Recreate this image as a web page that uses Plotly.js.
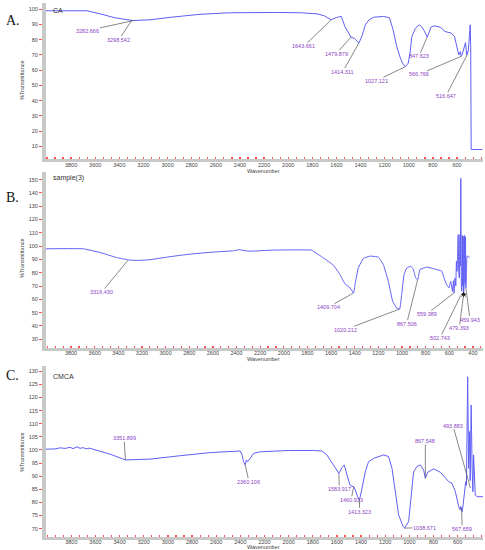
<!DOCTYPE html>
<html>
<head>
<meta charset="utf-8">
<script src="https://cdn.plot.ly/plotly-3.0.1.min.js"></script>
<style>html,body{margin:0;padding:0;background:#fff;}#chart{width:485px;height:550px;}</style>
</head>
<body>
<div id="chart"></div>
<script>
// ---------- data ----------
const caWn = [4008,3668,3560,3436,3287,3146,2980,2732,2484,2318,2100,1900,1761,1700,1643.7,1600,1560,1530,1500,1479.9,1450,1414.3,1390,1360,1330,1290,1210,1160,1130,1100,1070,1045,1027.1,1005,990,975,945,915,895,870,847.6,830,815,790,740,700,648,621,603,586,572,566.8,558,544,530,520,516.6,506,495,491,487,483,390];
const caT  = [98.9,98.9,96.9,94.3,92.5,93,94.6,96.6,97.6,97.8,97.8,97.6,96.9,95.6,93,94.5,95.2,88.6,84,81.7,80.8,77.7,82,89.7,93,94.7,95.2,94.3,86.4,75.5,67.9,63.5,62.4,64.6,71.2,82,87.5,89.7,88.6,85.5,81.7,85.3,88.3,89,88.2,85.3,84.3,82,75.5,70,72.2,69,70,73.3,78.1,70,70,73.3,85,89.7,75,8,8];

const s3Wn = [4012,3696,3555,3414,3329,3300,3250,3200,3132,2991,2850,2709,2568,2427,2377,2328,2286,2100,1900,1764,1750,1666,1581,1525,1482,1440,1409.7,1398,1370,1327,1271,1200,1158,1116,1079,1045,1020.2,1003,983,960,926,904,884,867.5,848,791,735,664,645,622,603,588,574,565,559.4,552,545,540,535,530,525,520,515,510,506,502.7,498,494,490,486,482,479.4,475,471,467,463,459.9,455,450,440,428];
const s3T  = [98,98,95.2,91.4,89.9,89.5,89.3,89.4,89.8,91.7,93.4,94.7,95.7,96.5,97.4,96.5,96.2,97,97.2,97,96.2,91.2,85.7,78.6,71.6,68.6,64.8,71,83.6,90.7,92.5,91.7,86.1,73.6,58.5,53.5,52.7,63.5,78.6,83.6,84.9,82.4,76,74.8,82.4,84.2,83.1,81.2,76.1,71,68.6,73.6,66,74,64.8,76,70,88.7,81,92.5,108.7,80,76,108.7,85,151,70,66,108,70,107.5,63.5,70,108,72,107,68.6,80,92.5,92.5,91.2];

const cmWn = [4010,3935,3894,3852,3811,3786,3753,3728,3703,3678,3653,3620,3562,3479,3352,3148,2899,2650,2401,2385,2374,2360,2350,2340,2318,2291,2236,2125,2000,1800,1724,1683,1641,1600,1584,1558,1539,1517,1490,1461,1448,1429,1413,1392,1365,1338,1296,1213,1172,1144,1116,1089,1052,1038.7,1006,986,965,937,909,882,867.5,848,799,743,674,646,619,591,580,575,570,567.7,563,555,541,533,527,517,509,501,496,488,480,474,468,460,454,440,390];
const cmT  = [100.3,100.4,100.8,100.6,101.0,100.5,101.2,100.6,100.9,100.4,100.7,100.3,99.6,98.4,96.2,96.5,97.8,99.0,99.6,98,95.5,94.3,96.2,95.5,96.8,98.7,99.3,99.6,99.8,99.8,99.6,98.1,94.9,91.8,91.1,93.3,94.3,90.5,86.4,86,84.8,82.2,81,85.4,91.7,95.5,96.8,98.1,97.5,93,84.1,75.3,70.8,70.2,72.7,81.6,91.7,93.7,94.3,92.4,89.2,91.5,92.8,91.5,87.9,87.2,84.1,78.4,77.2,78.5,77,78,76.5,79,84.1,87.9,86.5,127.9,93,107,88.3,117.1,93,84.1,98.1,91,82.9,82.2,82.2];

// peak labels
const caPeakWn = [3282.666,3298.542,1643.661,1479.879,1414.311,1027.121,847.623,566.766,516.647];
const caPeakT  = [92.5,92.5,93,81.7,77.7,62.4,81.7,69,70];
const s3PeakWn = [3316.430,1409.704,1020.212,867.506,559.389,502.743,479.393,459.943];
const s3PeakT  = [89.6,64.8,52.7,74.8,64.8,63,63.5,68.6];
const cmPeakWn = [3351.899,2360.106,1583.917,1460.933,1413.323,1038.671,867.548,567.659,493.883];
const cmPeakT  = [96.2,94.3,91.1,86,81,70.2,89.2,78,85.5];
const markWn = [479.393], markT = [63.5];

// tick labels
const xTicks = [3800,3600,3400,3200,3000,2800,2600,2400,2200,2000,1800,1600,1400,1200,1000,800,600,400];
const caYTicks = [10,20,30,40,50,60,70,80,90,100];
const s3YTicks = [30,40,50,60,70,80,90,100,110,120,130,140,150];
const cmYTicks = [70,75,80,85,90,95,100,105,110,115,120,125,130];

const names = ['CA','sample(3)','CMCA'];
const panelLetters = ['A.','B.','C.'];

// ---------- layout helpers (pixel offsets of label text from peak) ----------
const caOff = [[-45.5,10],[-12.6,19],[-27.5,26.7],[-14.6,16.7],[-16,28.4],[-29.3,14.3],[-8.3,19.4],[-42.3,18],[-21,40.7]];
const s3Off = [[-26.5,32],[-25.3,14.3],[-54.6,20.7],[-11,44],[-27.4,21],[-20.8,42.6],[-4.3,33.3],[4.1,31.7]];
const cmOff = [[-1.4,-21.7],[3.8,16.7],[0.4,15.7],[-2.6,13],[0.1,11.7],[19.7,-0.6],[0,-37.3],[0.6,21],[-17.5,-62.3]];

const W = 485, H = 550;
const px = v => v / W, py = v => 1 - v / H;
const lineColor = '#5f5ff5';
const labelColor = '#8a3fc4';
const smallFont = {family:'Liberation Sans, Arial, sans-serif', size:5.5, color:'#444'};

const traces = [
  {x:caWn, y:caT, xaxis:'x', yaxis:'y', type:'scatter', mode:'lines', line:{color:lineColor, width:1}, hoverinfo:'skip'},
  {x:s3Wn, y:s3T, xaxis:'x2', yaxis:'y2', type:'scatter', mode:'lines', line:{color:lineColor, width:1, shape:'spline', smoothing:0.3}, hoverinfo:'skip'},
  {x:cmWn, y:cmT, xaxis:'x3', yaxis:'y3', type:'scatter', mode:'lines', line:{color:lineColor, width:1}, hoverinfo:'skip'},
  {x:markWn, y:markT, xaxis:'x2', yaxis:'y2', type:'scatter', mode:'markers', marker:{symbol:'asterisk-open', size:4, color:'#111', line:{color:'#111', width:1}}, hoverinfo:'skip'}
];

function xAxis(range, anchor) {
  return {
    domain:[px(46), px(483)], range:range, anchor:anchor,
    showgrid:false, zeroline:false, showline:true, linecolor:'#c8c8c8', linewidth:3,
    ticks:'',
    tickmode:'array', tickvals:xTicks, ticktext:xTicks.map(String),
    tickfont:smallFont, ticklabelstandoff:-2,
    minor:{ticks:'inside', ticklen:2, tickwidth:1.2, tickcolor:'#ff5050', tick0:400, dtick:200/3},
    fixedrange:true
  };
}
function yAxis(range, domain, anchor, ticks) {
  return {
    domain:domain, range:range, anchor:anchor,
    showgrid:false, zeroline:false, showline:true, linecolor:'#c8c8c8', linewidth:4,
    ticks:'outside', ticklen:3, tickwidth:1, tickcolor:'#ff5050',
    tickmode:'array', tickvals:ticks, ticktext:ticks.map(String),
    tickfont:smallFont, fixedrange:true
  };
}

const annotations = [];
function addPeaks(wn, t, off, xr, yr) {
  wn.forEach((w, i) => {
    annotations.push({
      x:w, y:t[i], xref:xr, yref:yr, text:w.toFixed(3),
      showarrow:true, arrowhead:0, arrowwidth:0.7, arrowcolor:'#555',
      ax:off[i][0], ay:off[i][1], standoff:0, borderpad:0,
      font:{family:'Liberation Sans, Arial, sans-serif', size:5.5, color:labelColor}
    });
  });
}
addPeaks(caPeakWn, caPeakT, caOff, 'x', 'y');
addPeaks(s3PeakWn, s3PeakT, s3Off, 'x2', 'y2');
addPeaks(cmPeakWn, cmPeakT, cmOff, 'x3', 'y3');

// panel texts
const nameY = [10, 178.5, 376];
const letterY = [20, 197, 375];
const wavY = [171, 359, 546.5];
const transY = [80, 258, 452];
for (let i = 0; i < 3; i++) {
  annotations.push({xref:'paper', yref:'paper', x:px(51), y:py(nameY[i]), xanchor:'left', yanchor:'middle', showarrow:false,
    text:names[i], font:{family:'Liberation Sans, Arial, sans-serif', size:7, color:'#333'}});
  annotations.push({xref:'paper', yref:'paper', x:px(4), y:py(letterY[i]), xanchor:'left', yanchor:'middle', showarrow:false,
    text:panelLetters[i], font:{family:'Liberation Serif, Times New Roman, serif', size:14, color:'#111'}});
  annotations.push({xref:'paper', yref:'paper', x:px(263), y:py(wavY[i]), xanchor:'center', yanchor:'middle', showarrow:false,
    text:'Wavenumber', font:{family:'Liberation Sans, Arial, sans-serif', size:5.5, color:'#444'}});
  annotations.push({xref:'paper', yref:'paper', x:px(22), y:py(transY[i]), xanchor:'center', yanchor:'middle', showarrow:false,
    textangle:-90, text:'%Transmittance', font:{family:'Liberation Sans, Arial, sans-serif', size:5.5, color:'#444'}});
}

const layout = {
  width:W, height:H, margin:{l:0, r:0, t:0, b:0},
  paper_bgcolor:'#ffffff', plot_bgcolor:'#ffffff', showlegend:false,
  xaxis: xAxis([4008, 385], 'y'),
  yaxis: yAxis([1.6, 104], [py(159.3), py(3)], 'x', caYTicks),
  xaxis2: xAxis([4012, 315], 'y2'),
  yaxis2: yAxis([23.6, 156], [py(347.7), py(171.7)], 'x2', s3YTicks),
  xaxis3: xAxis([4010, 390], 'y3'),
  yaxis3: yAxis([66.9, 132], [py(536.8), py(366)], 'x3', cmYTicks),
  annotations:annotations
};

Plotly.newPlot('chart', traces, layout, {displayModeBar:false, staticPlot:true});
</script>
</body>
</html>
